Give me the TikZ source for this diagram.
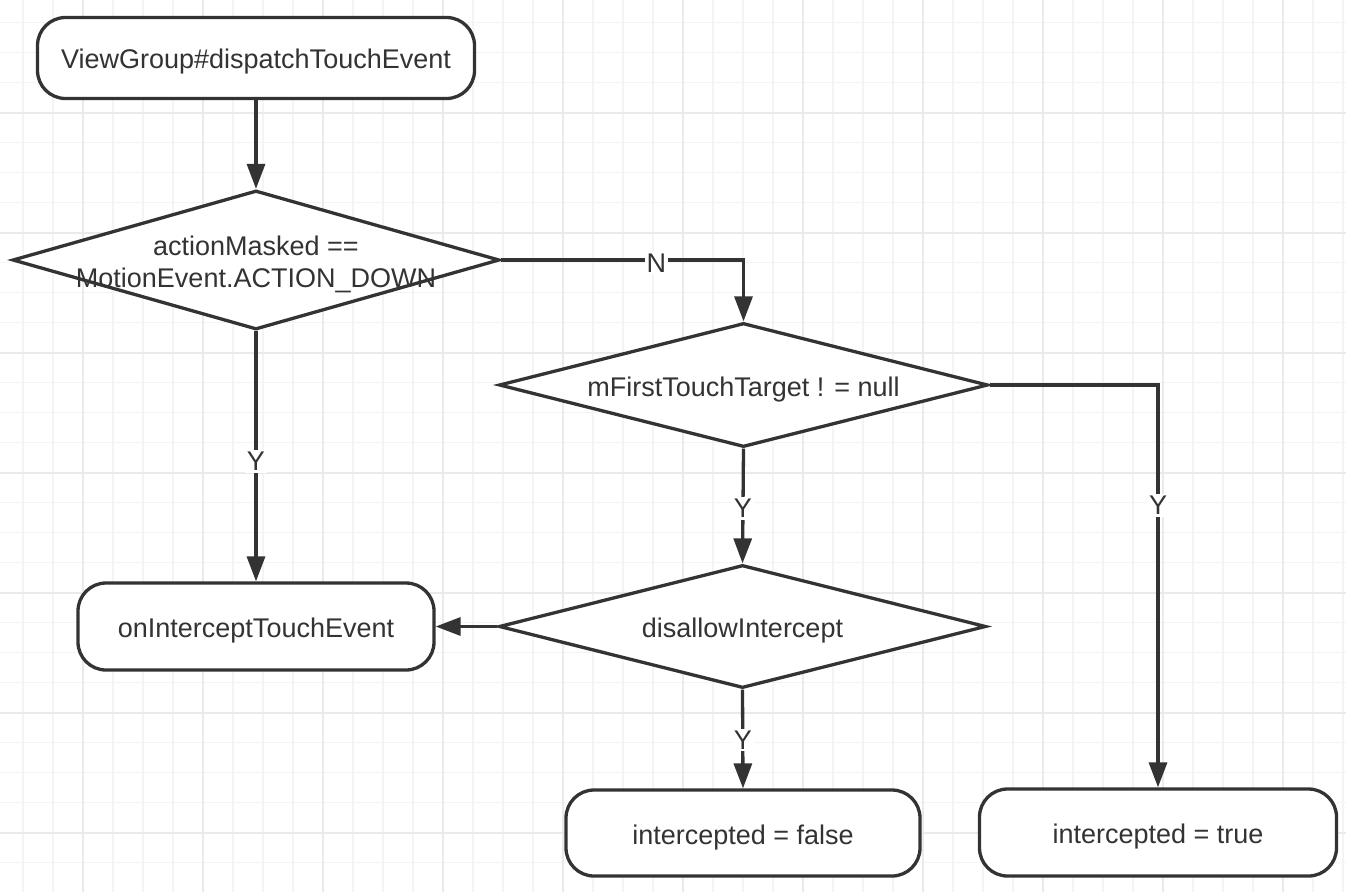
\documentclass[tikz,border=0pt]{standalone}
\usepackage{fontspec}
\setmainfont{Liberation Sans}
\usetikzlibrary{shapes.geometric,arrows.meta}
\definecolor{ink}{HTML}{333333}
\definecolor{gridminor}{HTML}{F4F4F4}
\definecolor{gridmajor}{HTML}{EAEAEA}
\begin{document}
\begin{tikzpicture}[x=1pt,y=-1pt,
  every node/.style={font=\fontsize{27}{32}\selectfont, text=ink},
  termbox/.style={draw=ink, line width=3.3pt, rectangle, rounded corners=28pt, fill=white, inner sep=0pt},
  decbox/.style={draw=ink, line width=3.3pt, diamond, fill=white, inner sep=0pt},
  txt/.style={align=center, inner sep=0pt},
  lab/.style={fill=white, inner sep=2pt},
  arr/.style={draw=ink, line width=3.3pt, -{Triangle[length=25pt,width=18pt]}}]
\useasboundingbox (0,0) rectangle (1346,892);
\fill[white] (0,0) rectangle (1346,892);
% grid
\foreach \gx in {23,53,...,1343} \draw[gridminor, line width=1.5pt] (\gx,0) -- (\gx,892);
\foreach \gy in {22.7,52.7,...,882.7} \draw[gridminor, line width=1.5pt] (0,\gy) -- (1346,\gy);
\foreach \gx in {83,203,...,1283} \draw[gridmajor, line width=2pt] (\gx,0) -- (\gx,892);
\foreach \gy in {112.7,232.7,...,832.7} \draw[gridmajor, line width=2pt] (0,\gy) -- (1346,\gy);
% nodes
\node[termbox, minimum width=437pt, minimum height=81pt] (top) at (256,58) {};
\node[txt] (topt) at (256,62) {ViewGroup\#dispatchTouchEvent};
\node[decbox, minimum width=487pt, minimum height=139pt] (d1) at (256,260) {};
\node[txt] (d1t) at (256,264) {actionMasked ==\\MotionEvent.ACTION\_DOWN};
\node[decbox, minimum width=489pt, minimum height=124pt] (d2) at (743.5,385) {};
\node[txt] (d2t) at (743.5,390) {mFirstTouchTarget ! = null};
\node[decbox, minimum width=487pt, minimum height=123pt] (d3) at (742.5,626.5) {};
\node[txt] (d3t) at (742.5,631) {disallowIntercept};
\node[termbox, minimum width=356pt, minimum height=87pt] (oit) at (256,626.5) {};
\node[txt] (oitt) at (256,631) {onInterceptTouchEvent};
\node[termbox, minimum width=354pt, minimum height=86pt] (fal) at (743,833) {};
\node[txt] (falt) at (743,838) {intercepted = false};
\node[termbox, minimum width=357pt, minimum height=87pt] (tru) at (1158,832.5) {};
\node[txt] (trut) at (1158,837) {intercepted = true};
% connectors
\draw[arr] (top.south) -- (d1.north);
\draw[arr] (d1.east) -| node[lab, pos=0.32, yshift=-3pt] {N} (d2.north);
\draw[arr] (d1.south) -- node[lab, pos=0.52] {Y} (oit.north);
\draw[arr] (d2.south) -- node[lab, pos=0.52] {Y} (d3.north);
\draw[arr] (d2.east) -| node[lab, pos=0.65] {Y} (tru.north);
\draw[arr] (d3.west) -- (oit.east);
\draw[arr] (d3.south) -- node[lab, pos=0.51] {Y} (fal.north);
\end{tikzpicture}
\end{document}
